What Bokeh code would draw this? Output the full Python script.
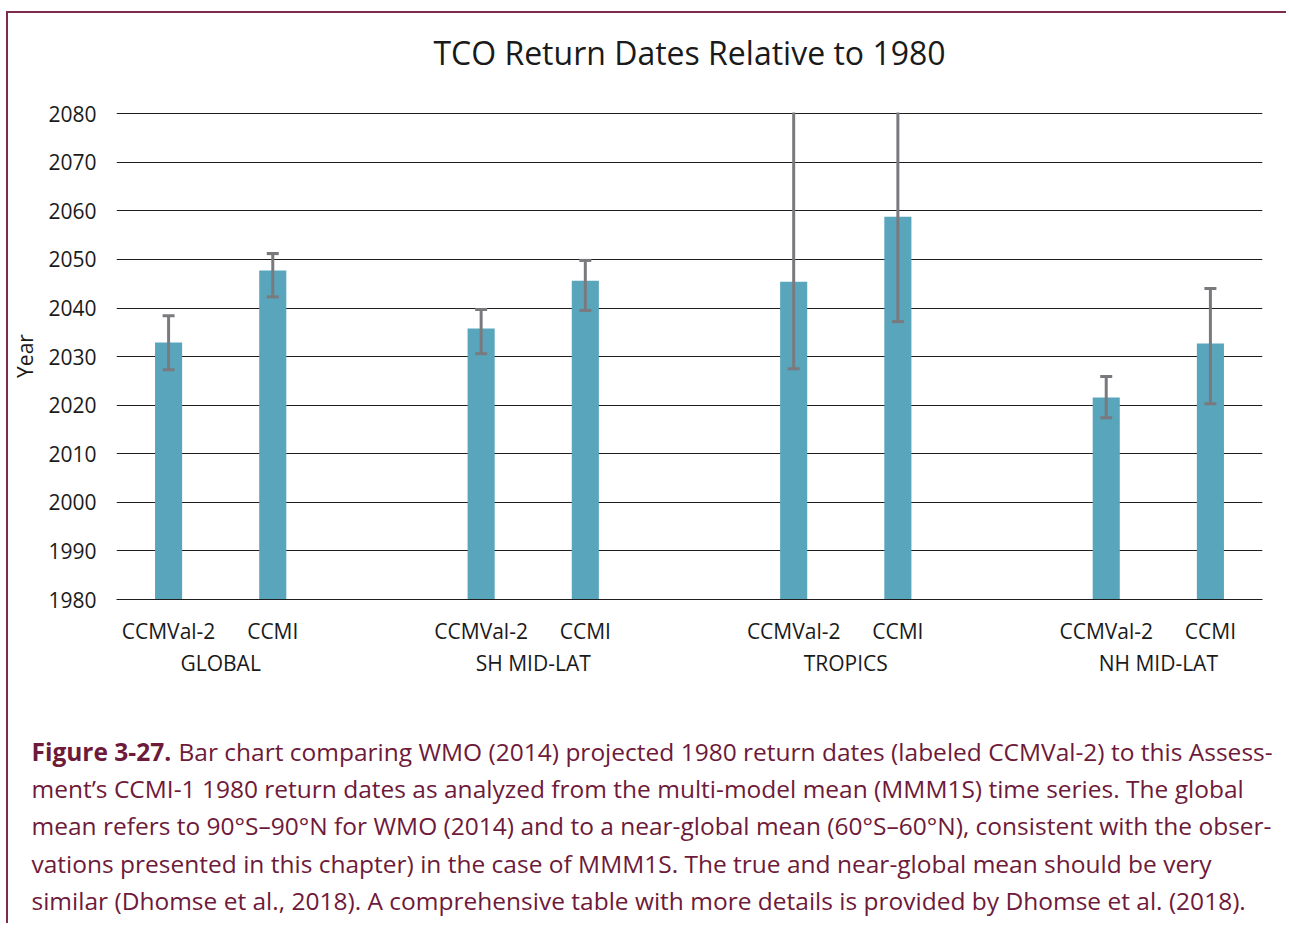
from bokeh.plotting import figure
from bokeh.layouts import column
from bokeh.models import FactorRange, Range1d, FixedTicker, ColumnDataSource, Title
from bokeh.core.properties import value
from bokeh.embed import file_html
from bokeh.resources import INLINE

# ---------------- data ----------------
groups = ["GLOBAL", "SH MID-LAT", "TROPICS", "NH MID-LAT"]
series = ["CCMVal-2", "CCMI"]

ccmval2_mean = [2032.9, 2035.8, 2045.4, 2021.6]
ccmval2_low = [2027.3, 2030.6, 2027.5, 2017.4]
ccmval2_high = [2038.4, 2039.7, 2090.0, 2025.9]

ccmi_mean = [2047.7, 2045.6, 2058.8, 2032.7]
ccmi_low = [2042.3, 2039.5, 2037.2, 2020.3]
ccmi_high = [2051.2, 2049.8, 2090.0, 2044.0]

year_ticks = [1980, 1990, 2000, 2010, 2020, 2030, 2040, 2050, 2060, 2070, 2080]

title_text = "TCO Return Dates Relative to 1980"
y_label = "Year"
caption_bold = "Figure 3-27."
caption_lines = [
    "Bar chart comparing WMO (2014) projected 1980 return dates (labeled CCMVal-2) to this Assess-",
    "ment\u2019s CCMI-1 1980 return dates as analyzed from the multi-model mean (MMM1S) time series. The global",
    "mean refers to 90\u00b0S\u201390\u00b0N for WMO (2014) and to a near-global mean (60\u00b0S\u201360\u00b0N), consistent with the obser-",
    "vations presented in this chapter) in the case of MMM1S. The true and near-global mean should be very",
    "similar (Dhomse et al., 2018). A comprehensive table with more details is provided by Dhomse et al. (2018).",
]

# ---------------- build table ----------------
factors, means, lows, highs = [], [], [], []
for i, g in enumerate(groups):
    factors += [(g, series[0]), (g, series[1])]
    means += [ccmval2_mean[i], ccmi_mean[i]]
    lows += [ccmval2_low[i], ccmi_low[i]]
    highs += [ccmval2_high[i], ccmi_high[i]]

src = ColumnDataSource(dict(x=factors, top=means, low=lows, high=highs))

FONT = "Open Sans"
BAR = "#59a5bc"
ERR = "#7a7a7e"
GRID = "#1e1e1e"
TXT = "#1a1a1a"
MAROON = "#6e1a3a"
BORDER = "#7d2d4b"

W_LEFT, W_FRAME, W_RIGHT = 105, 1146, 24
TOTAL_W = W_LEFT + W_FRAME + W_RIGHT

p = figure(
    x_range=FactorRange(factors=factors, factor_padding=0, group_padding=1.0, range_padding=0),
    y_range=Range1d(1980, 2080.25),
    frame_width=W_FRAME, frame_height=487,
    min_border_left=W_LEFT, min_border_right=W_RIGHT, min_border_top=99, min_border_bottom=100,
    output_backend="svg", toolbar_location=None,
    background_fill_color="white", border_fill_color="white",
)
p.frame_align = False
p.outline_line_color = None

# spacer (nearest the frame) then the title above it
p.add_layout(Title(text=" ", text_font_size="1px", standoff=36), "above")
p.add_layout(Title(text=title_text, text_font=FONT, text_font_size="32px", text_font_style="normal",
                   text_color=TXT, align="center", standoff=0), "above")

p.vbar(x="x", top="top", bottom=1980, width=0.26, source=src, color=BAR, line_color=None)
p.segment(x0="x", y0="low", x1="x", y1="high", source=src, line_color=ERR, line_width=3)
p.scatter(x="x", y="low", source=src, marker="dash", size=12, line_color=ERR, line_width=3)
p.scatter(x="x", y="high", source=src, marker="dash", size=12, line_color=ERR, line_width=3)

# y axis
p.yaxis.ticker = FixedTicker(ticks=year_ticks)
p.yaxis.axis_line_color = None
p.yaxis.major_tick_line_color = None
p.yaxis.minor_tick_line_color = None
p.yaxis.major_tick_out = 0
p.yaxis.major_tick_in = 0
p.yaxis.major_label_standoff = 20
p.yaxis.major_label_text_font = FONT
p.yaxis.major_label_text_font_size = "21px"
p.yaxis.major_label_text_color = TXT
p.yaxis.axis_label = y_label
p.yaxis.axis_label_text_font = FONT
p.yaxis.axis_label_text_font_size = "21px"
p.yaxis.axis_label_text_font_style = "normal"
p.yaxis.axis_label_text_color = TXT
p.yaxis.axis_label_standoff = 6

# x axis (invisible ticks used only as spacing)
p.xaxis.axis_line_color = GRID
p.xaxis.axis_line_width = 1
p.xaxis.major_tick_line_color = None
p.xaxis.minor_tick_line_color = None
p.xaxis.major_tick_out = 16
p.xaxis.major_tick_in = 0
p.xaxis.major_label_standoff = 1
p.xaxis.major_label_text_font = FONT
p.xaxis.major_label_text_font_size = "21px"
p.xaxis.major_label_text_color = TXT
p.xaxis.group_text_font = FONT
p.xaxis.group_text_font_size = "21px"
p.xaxis.group_text_font_style = "normal"
p.xaxis.group_text_color = TXT
p.xaxis.separator_line_color = None

p.xgrid.grid_line_color = None
p.ygrid.grid_line_color = GRID
p.ygrid.grid_line_width = 1

# ---------------- caption panel ----------------
CAP_H = 224
cap = figure(
    width=TOTAL_W, height=CAP_H,
    x_range=Range1d(0, TOTAL_W), y_range=Range1d(CAP_H, 0),
    x_axis_type=None, y_axis_type=None,
    min_border=0, min_border_left=0, min_border_right=0, min_border_top=0, min_border_bottom=0,
    output_backend="svg", toolbar_location=None,
    background_fill_color="white", border_fill_color="white",
)
cap.frame_align = False
cap.outline_line_color = None
cap.grid.visible = False

base_y = 52
step = 37.2
left_x = 23
CAP_SIZE = "24.5px"
cap.text(x=[left_x], y=[base_y], text=[caption_bold], text_font=value(FONT), text_font_size=CAP_SIZE,
         text_font_style="bold", text_color=MAROON, text_baseline="alphabetic")
xs = [170] + [left_x] * (len(caption_lines) - 1)
ys = [base_y + i * step for i in range(len(caption_lines))]
cap.text(x=xs, y=ys, text=caption_lines, text_font=value(FONT), text_font_size=CAP_SIZE,
         text_color=MAROON, text_baseline="alphabetic")

layout = column(p, cap, spacing=0)
layout.styles = {"border-top": "2px solid " + BORDER, "border-left": "2px solid " + BORDER,
                 "margin-top": "11px", "margin-left": "6px"}

open("out.html", "w").write(file_html(layout, INLINE))
